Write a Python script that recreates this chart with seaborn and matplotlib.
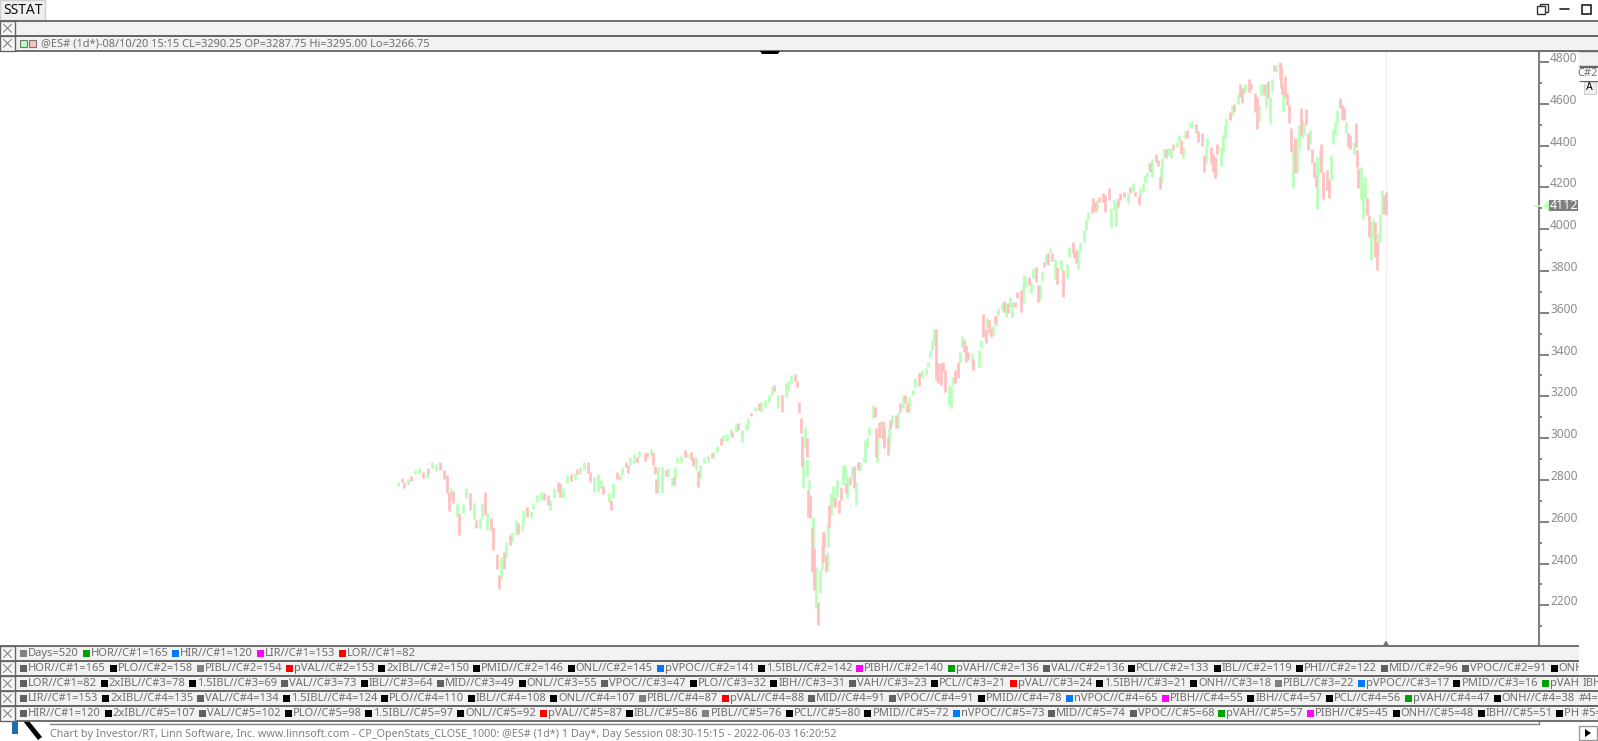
import matplotlib
matplotlib.use("Agg")
import matplotlib.pyplot as plt
from matplotlib.patches import Rectangle, Polygon
from matplotlib.transforms import ScaledTranslation
import numpy as np
import pandas as pd
import seaborn as sns

# bars: day number, high, low, side (g up / p down)
days_a = [0,2,3,5,7,9,11,13,15,16, 18,20,22,24,26,27,28,29,31,32, 34,36,38,40,41,43,44,46,47,49,
          50,52,53,54,56,57,59,60,62,63, 65,66,68,70,71,73,75,77,79,80, 82,84,85,87,89,91,93,94,96,98,
          100,101,103,105,107,108,111,112,113,115,116]
highs_a = [2792,2808,2789,2805,2821,2848,2859,2840,2840,2856, 2888,2875,2885,2848,2824,2744,2760,2747,2688,2640,
           2683,2760,2736,2688,2611,2616,2688,2744,2640,2616, 2576,2448,2344,2432,2456,2504,2536,2552,2608,2592,
           2584,2656,2672,2651,2688,2728,2744,2736,2728,2704, 2760,2789,2784,2760,2824,2827,2832,2853,2864,2885,
           2888,2840,2816,2827,2800,2773,2736,2704,2784,2840,2827]
lows_a = [2771,2792,2760,2776,2795,2829,2832,2811,2811,2829, 2856,2843,2848,2805,2736,2651,2704,2688,2624,2539,
          2640,2712,2656,2608,2568,2568,2616,2632,2560,2560, 2464,2373,2280,2328,2376,2432,2488,2504,2536,2544,
          2555,2584,2624,2616,2661,2693,2704,2704,2680,2656, 2715,2744,2720,2715,2784,2795,2805,2827,2827,2848,
          2832,2792,2744,2744,2760,2731,2693,2656,2712,2805,2808]
sides_a = "gppgpggpgp" "ggppppgpgp" "ggpgpggpgp" "pppgpgpggp" "ggpggggppg" "gppggpgpgg" "ppgggpgpgpg"

days_b = [117,118,120,121,122,124,126,127,130,131, 133,134,135,136,137,139,141,142,144,145,
          146,147,149,151,152,154,155,157,158,159, 161,163,165,166,168,170,171,173,175,176,
          178,179,181,183,184,186,188,190,191,193, 195,197,198,200,202,204,205,207,209,210]
highs_b = [2824,2861,2888,2872,2908,2924,2908,2939,2928,2936, 2947,2936,2869,2803,2861,2861,2848,2856,2816,2816,
           2861,2908,2915,2944,2931,2936,2908,2908,2845,2872, 2912,2920,2931,2936,2963,3000,3015,3020,3042,3031,
           3068,3071,3039,3068,3095,3119,3148,3167,3175,3183, 3207,3243,3255,3207,3207,3262,3275,3302,3307,3275]
lows_b = [2800,2824,2864,2835,2872,2880,2888,2908,2892,2912, 2915,2872,2829,2736,2736,2739,2819,2816,2771,2776,
          2808,2880,2888,2912,2904,2896,2867,2848,2768,2808, 2880,2888,2904,2908,2936,2968,2988,2988,3015,3007,
          3031,3039,2983,3039,3047,3106,3132,3135,3127,3151, 3175,3207,3227,3143,3127,3199,3227,3266,3275,3243]
sides_b = "ggppggpgpp" "gpppggpggp" "gggpgppgpg" "ggpggpgggp" "gpgggpgpgg" "ggpgpgggpp"

days_c = [211,212,212.5,213,214,215,215.5,216,216.5,217, 218,218.5,219,220,221,222,223,223.5,224,225,
          226,226.5,227,228,229,230,231,232,233,234, 235,236,236.5,238,239,240,241,242,243,245,
          246,247,248,250,251,251.5,252,253,254,255, 256,258,258.5,259,260,262,263,264,266,267,
          268,269,271,272,274,275,276,278,279,280, 281,282,283,284,286,287,288,290,291,292,293,295]
highs_c = [3175,3095,3010,2904,3052,3000,2899,2752,2800,2728, 2577,2624,2473,2385,2218,2369,2489,2553,2553,2441,
           2457,2593,2680,2736,2771,2720,2800,2704,2768,2872, 2872,2784,2816,2816,2864,2867,2792,2888,2888,2912,
           2991,3000,3055,3159,3151,3047,3015,3079,3084,3084, 3047,3007,3047,3087,3111,3111,3127,3167,3207,3207,
           3167,3199,3231,3286,3313,3318,3326,3334,3366,3422, 3470,3522,3522,3358,3358,3366,3326,3255,3247,3294,3326,3366]
lows_c = [3119,3023,2864,2765,2951,2908,2813,2624,2752,2617, 2361,2401,2274,2186,2106,2258,2369,2409,2481,2361,
          2369,2481,2577,2632,2672,2672,2720,2640,2704,2776, 2808,2736,2712,2776,2816,2760,2680,2848,2848,2888,
          2888,2959,3015,3095,3103,2912,2888,2999,2999,2991, 2951,2920,2967,3042,3063,3047,3047,3127,3143,3167,
          3127,3127,3207,3247,3250,3286,3286,3302,3342,3390, 3422,3446,3279,3262,3255,3318,3223,3159,3143,3255,3262,3286]
sides_c = "pppggpgpgp" "pgpgpggppp" "ggpggpgppg" "gpgpgpgpgg" "ggggppgpgp" "ppgpgpgpgp" "pgggpggggg" "ggpppppgggpp"

days_d = [296,297,298,299,300,302,302.5,306,307,308, 309,309.5,310,311,312,313,314,315,316,318,
          319,320,321,322,323,325,326,328,329,329.5, 330,332,333,334,336,337,338,339,340,341,
          342,343,344,346,347,349,350,352,353,355, 356,357,358,359,361,362,363,365,366,367,
          368,369,371,372,374,375,377,378,379,380, 382,384,385,387,388,390,390.5,392,393,394]
highs_d = [3414,3489,3470,3446,3414,3406,3377,3422,3470,3594, 3517,3521,3573,3565,3525,3537,3584,3589,3621,3645,
           3658,3645,3648,3674,3653,3653,3701,3709,3733,3781, 3765,3769,3749,3808,3817,3733,3733,3797,3844,3881,
           3884,3908,3884,3856,3820,3852,3805,3833,3916,3940, 3892,3900,3900,3935,3996,4044,4084,4111,4147,4131,
           4139,4152,4175,4163,4195,4100,4143,4131,4147,4175, 4179,4171,4200,4222,4179,4159,4195,4219,4259,4275]
lows_d = [3358,3438,3414,3366,3374,3350,3326,3342,3430,3485, 3493,3454,3525,3501,3485,3493,3553,3537,3589,3613,
          3605,3578,3597,3629,3578,3629,3669,3605,3645,3722, 3725,3733,3696,3765,3749,3653,3664,3753,3820,3840,
          3828,3884,3849,3757,3737,3805,3674,3765,3865,3884, 3860,3836,3808,3892,3940,3996,4044,4076,4104,4084,
          4092,4131,4131,4084,4139,4012,4092,4015,4108,4139, 4152,4127,4171,4179,4159,4116,4155,4179,4222,4251]
sides_d = "ggpppgpggp" "gpgppgpggg" "pgpggpppgg" "gpggppggpg" "pgpgpgpggp" "ppgggggppp" "gppppgggpp" "pgpgppgggg"

days_e = [395,396,397,399,400,401,401.5,402,403,404, 406,407,408,410,411,412,413,414,415,417,
          418,420,421,423,424,425,426,428,429,430, 430.5,431,433,434,435,436,438,439,440,442,
          443,444,445,446,448,449,451,452,453,454, 456,457,458,459,460,461,462,464,464.5,465,
          466,467,468,469,470,471,472,473,474,475, 476,477,478,479,480,481,482,483,483.5,485,
          486,487,489,490,491,492,493,494,496,497, 498,499,500,501,503,504,504.5,505,507,508,
          509,510,511,512,513,514,515,516,517,518, 519,520]
highs_e = [4319,4319,4335,4358,4331,4251,4299,4339,4386,4386, 4390,4386,4406,4415,4450,4426,4394,4469,4474,4506,
           4517,4501,4469,4458,4355,4394,4437,4394,4362,4347, 4342,4406,4394,4453,4498,4530,4562,4594,4597,4645,
           4693,4677,4681,4693,4721,4693,4654,4634,4594,4693, 4693,4697,4709,4634,4721,4788,4785,4798,4782,4689,
           4673,4734,4650,4594,4482,4402,4434,4434,4498,4578, 4522,4506,4575,4458,4474,4386,4323,4259,4347,4378,
           4406,4275,4283,4235,4355,4474,4514,4570,4629,4594, 4586,4514,4458,4453,4418,4506,4378,4291,4299,4211,
           4251,4150,4067,4035,4051,4035,3940,3980,4075,4187, 4163,4179]
lows_e = [4283,4272,4251,4323,4303,4192,4219,4299,4347,4339, 4351,4339,4378,4394,4415,4362,4339,4434,4437,4485,
          4490,4458,4415,4399,4275,4315,4394,4319,4275,4246, 4259,4358,4303,4370,4434,4495,4522,4543,4562,4597,
          4634,4602,4650,4658,4658,4673,4559,4479,4519,4642, 4642,4586,4626,4506,4658,4756,4753,4721,4674,4645,
          4562,4634,4594,4506,4370,4198,4267,4275,4386,4450, 4434,4450,4498,4378,4410,4315,4251,4203,4099,4267,
          4275,4144,4187,4150,4235,4410,4450,4506,4578,4522, 4522,4458,4394,4386,4362,4394,4299,4195,4139,4051,
          4147,4067,3964,3852,3956,3868,3804,3876,3940,4075, 4071,4067]
sides_e = "gpgpppgggp" "ggpggpggpg" "gppppggppp" "gpggggpgpg" "ppggppppgg" "pgpggpgppp" "gppppgpggp" "ggppgpppgg" "ppppggggpp" "pgppgpppgg" "gppggppggg" "pp"

y_ticks = [2200, 2400, 2600, 2800, 3000, 3200, 3400, 3600, 3800, 4000, 4200, 4400, 4600, 4800]
last_price = 4112

header_text = "@ES# (1d*)-08/10/20 15:15 CL=3290.25 OP=3287.75 Hi=3295.00 Lo=3266.75"
footer_text = ("Chart by Investor/RT, Linn Software, Inc. www.linnsoft.com - CP_OpenStats_CLOSE_1000: "
               "@ES# (1d*) 1 Day*, Day Session 08:30-15:15 - 2022-06-03 16:20:52")

DG, BK, MG = "#606060", "#000000", "#808080"
GR, BL, MA, RD = "#00A000", "#0078FF", "#FF00FF", "#FF0000"

row1 = [("Days=520", MG), ("HOR//C#1=165", GR), ("HIR//C#1=120", BL), ("LIR//C#1=153", MA), ("LOR//C#1=82", RD)]
row2 = [("HOR//C#1=165", DG), ("PLO//C#2=158", BK), ("PIBL//C#2=154", MG), ("pVAL//C#2=153", RD),
        ("2xIBL//C#2=150", BK), ("PMID//C#2=146", BK), ("ONL//C#2=145", BK), ("pVPOC//C#2=141", BL),
        ("1.5IBL//C#2=142", BK), ("PIBH//C#2=140", MA), ("pVAH//C#2=136", GR), ("VAL//C#2=136", DG),
        ("PCL//C#2=133", BK), ("IBL//C#2=119", BK), ("PHI//C#2=122", BK), ("MID//C#2=96", DG),
        ("VPOC//C#2=91", DG), ("ONH", BK)]
row3 = [("LOR//C#1=82", DG), ("2xIBL//C#3=78", BK), ("1.5IBL//C#3=69", BK), ("VAL//C#3=73", DG),
        ("IBL//C#3=64", BK), ("MID//C#3=49", DG), ("ONL//C#3=55", BK), ("VPOC//C#3=47", DG),
        ("PLO//C#3=32", BK), ("IBH//C#3=31", BK), ("VAH//C#3=23", DG), ("PCL//C#3=21", BK),
        ("pVAL//C#3=24", RD), ("1.5IBH//C#3=21", BK), ("ONH//C#3=18", BK), ("PIBL//C#3=22", MG),
        ("pVPOC//C#3=17", BL), ("PMID//C#3=16", BK), ("pVAH", GR), ("IBH", None)]
row4 = [("LIR//C#1=153", DG), ("2xIBL//C#4=135", BK), ("VAL//C#4=134", DG), ("1.5IBL//C#4=124", BK),
        ("PLO//C#4=110", BK), ("IBL//C#4=108", BK), ("ONL//C#4=107", BK), ("PIBL//C#4=87", MG),
        ("pVAL//C#4=88", RD), ("MID//C#4=91", DG), ("VPOC//C#4=91", DG), ("PMID//C#4=78", BK),
        ("nVPOC//C#4=65", BL), ("PIBH//C#4=55", MA), ("IBH//C#4=57", BK), ("PCL//C#4=56", BK),
        ("pVAH//C#4=47", GR), ("ONH//C#4=38", BK), ("#4=", None)]
row5 = [("HIR//C#1=120", DG), ("2xIBL//C#5=107", BK), ("VAL//C#5=102", DG), ("PLO//C#5=98", BK),
        ("1.5IBL//C#5=97", BK), ("ONL//C#5=92", BK), ("pVAL//C#5=87", RD), ("IBL//C#5=86", BK),
        ("PIBL//C#5=76", MG), ("PCL//C#5=80", BK), ("PMID//C#5=72", BK), ("nVPOC//C#5=73", BL),
        ("MID//C#5=74", DG), ("VPOC//C#5=68", DG), ("pVAH//C#5=57", GR), ("PIBH//C#5=45", MA),
        ("ONH//C#5=48", BK), ("IBH//C#5=51", BK), ("PH #5=", BK)]

W, H = 1598, 741
UP, DOWN = "#B8FFB8", "#FFC0C0"
TXT = "#6E6E6E"
FONT = ["Noto Sans", "DejaVu Sans"]

sns.set_style("white")
plt.rcParams["font.family"] = FONT

bars = pd.DataFrame({
    "day": days_a + days_b + days_c + days_d + days_e,
    "high": highs_a + highs_b + highs_c + highs_d + highs_e,
    "low": lows_a + lows_b + lows_c + lows_d + lows_e,
    "side": list(sides_a + sides_b + sides_c + sides_d + sides_e),
})
bars["bar"] = bars.index
long_bars = bars.melt(id_vars=["bar", "day", "side"], value_vars=["high", "low"], value_name="price")

fig = plt.figure(figsize=(W / 100, H / 100), dpi=100, facecolor="white")

# price pane: 51..646 px tall, y axis at x=1539. 4800 sits at y=62, 3800 at y=271
ax = fig.add_axes([0, 1 - 646 / H, 1539 / W, (646 - 51) / H])
sns.lineplot(data=long_bars, x="day", y="price", hue="side", units="bar", estimator=None, sort=False,
             palette={"g": UP, "p": DOWN}, linewidth=1.95, legend=False, ax=ax, solid_capstyle="butt")
ax.set_xlim((0 - 398) / 1.9, (1539 - 398) / 1.9)
ax.set_ylim(4800 - (646 - 62) / 0.209, 4800 + (62 - 51) / 0.209)
ax.axvline(520, color="#EFEFEF", lw=1, zorder=0)
ax.set_xlabel("")
ax.set_ylabel("")
ax.set_xticks([])
ax.yaxis.tick_right()
ax.set_yticks(y_ticks)
ax.set_yticks([t - 100 for t in y_ticks], minor=True)
ax.tick_params(axis="y", which="major", length=7, width=1.4, color="#808080", labelsize=8.6, labelcolor="#8C8C8C", pad=1, right=True)
ax.tick_params(axis="y", which="minor", length=2.5, width=1.4, color="#808080", right=True)
shift = ScaledTranslation(0, 5 / 100, fig.dpi_scale_trans)
for lab in ax.get_yticklabels():
    lab.set_transform(lab.get_transform() + shift)
for name in ["top", "left", "bottom"]:
    ax.spines[name].set_visible(False)
ax.spines["right"].set_color("#808080")
ax.spines["right"].set_linewidth(1.5)

# everything round the pane is drawn in pixel coordinates on a second axes
ui = fig.add_axes([0, 0, 1, 1], facecolor="none")
ui.set_xlim(0, W)
ui.set_ylim(H, 0)
ui.axis("off")


def box(x0, y0, x1, y1, fc="#F2F2F2", ec="#666666", lw=1.3, z=3):
    r = Rectangle((x0, y0), x1 - x0, y1 - y0, fc=fc, ec=ec, lw=lw, zorder=z)
    ui.add_patch(r)
    return r


def strip(x0, y0, x1, y1, fc="#F2F2F2", lw=1.3):
    # filled band with only a top and bottom rule
    r = box(x0, y0, x1, y1, fc=fc, ec="none", z=3)
    ui.plot([x0, x1], [y0, y0], color="#666666", lw=lw, zorder=4, solid_capstyle="butt")
    ui.plot([x0, x1], [y1, y1], color="#666666", lw=lw, zorder=4, solid_capstyle="butt")
    return r


def close_mark(y0, y1):
    box(0, y0, 15, y1, fc="#F7F7F7", lw=1.0, z=4)
    ym = (y0 + y1) / 2
    ui.plot([3.5, 11.5], [ym - 4, ym + 4], color="#777777", lw=0.7, zorder=5)
    ui.plot([3.5, 11.5], [ym + 4, ym - 4], color="#777777", lw=0.7, zorder=5)


def strip_row(y0, y1, xmax, items):
    clip = strip(0, y0, xmax, y1)
    close_mark(y0, y1)
    x = 20
    ym = (y0 + y1) / 2
    renderer = fig.canvas.get_renderer()
    for label, colour in items:
        if colour is not None:
            ui.add_patch(Rectangle((x, ym - 3.5), 7, 7, fc=colour, ec="none", zorder=5, clip_path=clip))
            x += 8
        t = ui.text(x, ym + 0.3, label, fontsize=8.0, color=TXT, va="center", ha="left", zorder=5, clip_on=True)
        t.set_clip_path(clip)
        x += t.get_window_extent(renderer).width + 3.8


# top button, window icons
box(0, 0, 45, 20, fc="#F0F0F0", ec="#CFCFCF", lw=1.0)
ui.text(3, 10, "SSTAT", fontsize=10, color="#111111", va="center", zorder=5)
box(1537, 6, 1545, 14, fc="white", ec="#333333", lw=1.0)
box(1540, 4, 1548, 12, fc="none", ec="#333333", lw=1.0, z=2)
ui.plot([1560, 1569], [9, 9], color="#222222", lw=1.2)
box(1582, 5, 1591, 14, fc="white", ec="#222222", lw=1.2)

# header strips
strip(0, 21, W + 2, 35.5)
close_mark(21, 35.5)
strip(0, 36, W + 2, 50.5)
close_mark(36, 50.5)
ui.add_patch(Rectangle((20, 40), 7, 7, fc=UP, ec="#777777", lw=0.8, zorder=5))
ui.add_patch(Rectangle((29, 40), 7, 7, fc=DOWN, ec="#777777", lw=0.8, zorder=5))
ui.text(41, 43.7, header_text, fontsize=7.93, color=TXT, va="center", zorder=5)
ui.add_patch(Polygon([[760, 51], [780, 51], [778, 54], [762, 54]], fc="black", ec="none", zorder=5))

# right edge bits
strip(1579, 51, W + 2, 66, lw=1.0)
clip_right = strip(1579, 67, W + 2, 81, fc="white", lw=0.8)
t = ui.text(1577, 74, "C#2", fontsize=8.0, color=TXT, va="center", zorder=5)
t.set_clip_path(clip_right)
box(1583.5, 82, 1596, 94, fc="#F0F0F0", ec="#CCCCCC", lw=0.8)
ui.text(1589.7, 88, "A", fontsize=7.6, color="black", va="center", ha="center", weight="bold", zorder=5)

# last price marker
y_last = 62 + (4800 - last_price) * 0.209
ui.plot([1535, 1539], [y_last, y_last], color=UP, lw=1.4, zorder=5)
ui.add_patch(Polygon([[1543, y_last], [1549, y_last - 5.5], [1549, y_last + 5.5]], fc=UP, ec="none", zorder=5))
ui.add_patch(Rectangle((1549, y_last - 5.5), 29, 11, fc="#808080", ec="none", zorder=5))
ui.text(1563.5, y_last, str(last_price), fontsize=9, color="white", va="center", ha="center", zorder=6)

# end of data marker
ui.add_patch(Polygon([[1386, 640.5], [1382.5, 646], [1389.5, 646]], fc="#707070", ec="none", zorder=5))

# legend strips
strip_row(646, 661, 1579, row1)
strip_row(661, 676, 1579, row2)
strip_row(676, 691, W + 2, row3)
strip_row(691, 706, W + 2, row4)
strip_row(706, 721, W + 2, row5)

# footer
ui.plot([50, 1539, 1539], [724, 724, 721], color="#808080", lw=1.0, zorder=2)
ui.add_patch(Rectangle((12, 721), 6, 13, fc="#1C6FA8", ec="none", zorder=2))
ui.add_patch(Polygon([[23, 721], [29, 721], [42, 737], [38, 740]], fc="black", ec="none", zorder=2))
ui.text(50, 734, footer_text, fontsize=7.8, color="#808080", va="center", zorder=5)
box(1579, 726, 1597, 740, fc="white", ec="#999999", lw=1.0)
ui.add_patch(Polygon([[1585, 729], [1585, 737], [1591, 733]], fc="black", ec="none", zorder=5))

fig.savefig("out.png", dpi=100)
